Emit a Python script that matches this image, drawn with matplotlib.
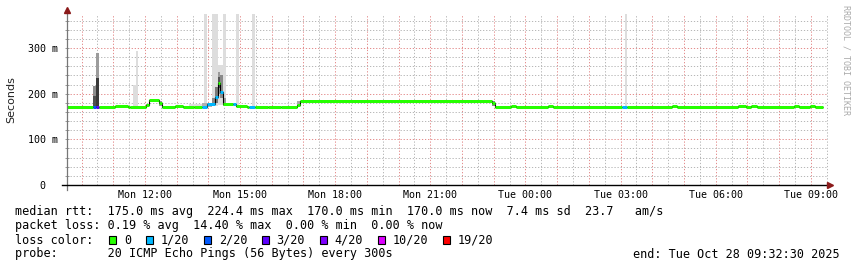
import matplotlib
matplotlib.use("Agg")
import matplotlib.pyplot as plt
from matplotlib.ticker import FixedLocator, FuncFormatter, MultipleLocator
from matplotlib.patches import Rectangle
import numpy as np

plt.rcParams['font.family'] = ['DejaVu Sans Mono']
plt.rcParams['lines.scale_dashes'] = False

# ---------------- data ----------------
START_H = 9 + 32.5 / 60          # Mon 09:32:30 (hours since Mon 00:00)
STEP_H = 5 / 60                  # 300 s step
N_SLOTS = 288

# median rtt (ms) as run-length: number of 5-min steps, value
median_run_len = [10, 8, 5, 1, 6, 1, 4, 1, 5, 3, 4, 5, 3, 1, 1, 1, 5, 4, 3, 5,
                  5, 6, 1, 73, 1, 6, 2, 12, 2, 45, 2, 23, 3, 2, 2, 14, 2, 4, 2, 3]
median_run_ms = [171, 170, 172, 170, 171, 176, 186, 179, 170, 172, 170, 171, 177, 193, 224.4, 204, 177, 174, 170, 171,
                 170, 171, 176, 185, 179, 170, 172, 170, 172, 170, 172, 170, 172, 170, 172, 170, 172, 170, 172, 170]

# packet loss (pings lost out of 20) at given steps, 0 elsewhere
loss_steps = [10, 11, 51, 52, 53, 54, 55, 56, 58, 63, 69, 70, 210, 211]
loss_count = [2, 3, 1, 1, 1, 1, 1, 1, 1, 1, 1, 1, 1, 1]

# smoke (ping spread) bands: first step, last step, low ms, high ms, shade
smoke_first = [25, 26, 46, 52, 55, 57, 59, 64, 70, 211,
               10, 11, 30, 35, 51, 55, 56, 57, 58, 59, 60, 64, 87, 161,
               10, 11, 57]
smoke_last = [25, 26, 50, 52, 56, 58, 59, 64, 70, 211,
              10, 11, 30, 35, 54, 55, 56, 57, 58, 59, 63, 67, 87, 161,
              10, 11, 57]
smoke_lo = [170, 170, 170, 170, 172, 175, 172, 170, 170, 170,
            170, 170, 171, 172, 170, 174, 180, 200, 190, 174, 172, 170, 172, 172,
            170, 170, 213]
smoke_hi = [219, 293, 177, 400, 400, 263, 400, 400, 400, 400,
            217, 290, 178, 184, 180, 190, 215, 248, 240, 190, 177, 175, 184, 184,
            195, 235, 236]
smoke_shade = ['#dddddd'] * 10 + \
              ['#8e8e8e', '#9c9c9c', '#999999', '#999999', '#b0b0b0', '#8a8a8a', '#7a7a7a',
               '#9a9a9a', '#8a8a8a', '#999999', '#c8c8c8', '#8a8a8a', '#aaaaaa', '#888888'] + \
              ['#505050', '#3a3a3a', '#555555']

loss_labels = ['0', '1/20', '2/20', '3/20', '4/20', '10/20', '19/20']
loss_colors = ['#26ff00', '#00b8ff', '#0059ff', '#5e00ff', '#7e00ff', '#dd00ff', '#ff0000']

y_ticks = [0.0, 0.1, 0.2, 0.3]
y_tick_labels = ['0  ', '100 m', '200 m', '300 m']

stats_lines = [
    "median rtt:  175.0 ms avg  224.4 ms max  170.0 ms min  170.0 ms now  7.4 ms sd  23.7   am/s",
    "packet loss: 0.19 % avg  14.40 % max  0.00 % min  0.00 % now",
]
probe_text = "probe:       20 ICMP Echo Pings (56 Bytes) every 300s"
end_text = "end: Tue Oct 28 09:32:30 2025"

# ---------------- build series ----------------
median_ms = np.repeat(median_run_ms, median_run_len)
n = len(median_ms)
edges = START_H + STEP_H * np.arange(n + 1)
median_s = median_ms / 1000.0
loss = np.zeros(n, dtype=int)
loss[loss_steps] = loss_count


def loss_color(c):
    if c == 0:
        return loss_colors[0]
    if c <= 4:
        return loss_colors[c]
    if c <= 10:
        return loss_colors[5]
    return loss_colors[6]


W, H = 857, 267
fig = plt.figure(figsize=(W / 100, H / 100), dpi=100)
fig.patch.set_facecolor('white')
ax_left, ax_right, ax_top, ax_bot = 67, 828, 14, 185
ax = fig.add_axes([ax_left / W, 1 - ax_bot / H, (ax_right - ax_left) / W, (ax_bot - ax_top) / H])
ax.set_xlim(START_H, START_H + N_SLOTS * STEP_H)
ax.set_ylim(0, (ax_bot - ax_top) / 456.7)

# grid
ax.set_axisbelow(True)
ax.yaxis.set_major_locator(FixedLocator(y_ticks))
ax.yaxis.set_minor_locator(MultipleLocator(0.02))
ax.yaxis.set_major_formatter(FuncFormatter(
    lambda v, p: y_tick_labels[y_ticks.index(round(v, 2))] if round(v, 2) in y_ticks else ''))
hours = list(range(10, 34))
ax.xaxis.set_major_locator(FixedLocator(hours))
ax.xaxis.set_minor_locator(FixedLocator([h + 0.5 for h in range(9, 34)]))


def xfmt(v, p):
    h = int(round(v))
    if h % 3:
        return ''
    day = 'Mon' if h < 24 else 'Tue'
    return f"{day} {h % 24:02d}:00"


ax.xaxis.set_major_formatter(FuncFormatter(xfmt))
ax.grid(which='minor', color='#b8b8b8', linestyle=(0, (0.9, 1.3)), linewidth=0.72)
ax.grid(which='major', color='#e48e8e', linestyle=(0, (0.9, 1.3)), linewidth=0.72)

for s in ax.spines.values():
    s.set_visible(False)
ax.tick_params(axis='y', which='both', direction='inout', length=3, width=0.7, color='#999999',
               labelsize=7.2, pad=5)
ax.tick_params(axis='x', which='both', length=0, labelsize=7.2, pad=3.5)

# smoke
for f, l, lo, hi, sh in zip(smoke_first, smoke_last, smoke_lo, smoke_hi, smoke_shade):
    ax.bar(edges[f], (hi - lo) / 1000.0, bottom=lo / 1000.0, width=edges[l + 1] - edges[f],
           align='edge', color=sh, linewidth=0, zorder=2)

# median black step line
ax.stairs(median_s, edges, baseline=None, color='black', linewidth=0.8, zorder=3)

# loss coloured median segments, merged into runs of equal value and colour
cols = [loss_color(c) for c in loss]
seg_y, seg_x0, seg_x1, seg_c = [], [], [], []
i = 0
while i < n:
    j = i
    while j + 1 < n and median_s[j + 1] == median_s[i] and cols[j + 1] == cols[i]:
        j += 1
    seg_y.append(median_s[i]); seg_x0.append(edges[i]); seg_x1.append(edges[j + 1]); seg_c.append(cols[i])
    i = j + 1
ax.hlines(seg_y, seg_x0, seg_x1, colors=seg_c, linewidth=2.16, zorder=4)

# axes lines and arrows
ax.plot([0, 0], [-0.03, 1.02], transform=ax.transAxes, color='#777777', lw=0.9, clip_on=False, zorder=5)
ax.plot([-0.007, 1.0], [0, 0], transform=ax.transAxes, color='black', lw=1.0, clip_on=False, zorder=5)
ax.plot([0], [1.025], transform=ax.transAxes, marker='^', ms=4, color='#8b1a1a', clip_on=False, zorder=6)
ax.plot([1.003], [0], transform=ax.transAxes, marker='>', ms=4, color='#8b1a1a', clip_on=False, zorder=6)

fig.text(11 / W, 1 - 100 / H, 'Seconds', rotation=90, ha='center', va='center',
         fontsize=8, family='DejaVu Sans', color='#222222')
fig.text(846 / W, 1 - 5 / H, 'RRDTOOL / TOBI OETIKER', rotation=270, ha='center', va='top',
         fontsize=6, color='#aaaaaa')

# legend area
fs = 8.5
cw = 0.602 * fs * 100 / 72
x0 = 15.3
ys = [211, 226, 240, 254]
for t, y in zip(stats_lines, ys[:2]):
    fig.text(x0 / W, 1 - y / H, t, ha='left', va='center', fontsize=fs)
fig.text(x0 / W, 1 - ys[2] / H, 'loss color:', ha='left', va='center', fontsize=fs)
xb = x0 + 13 * cw + 1.5
for lab, col in zip(loss_labels, loss_colors):
    fig.patches.append(Rectangle((xb / W, 1 - (ys[2] + 4) / H), 7 / W, 8 / H, transform=fig.transFigure,
                                 facecolor=col, edgecolor='black', linewidth=0.8))
    fig.text((xb + 15) / W, 1 - ys[2] / H, lab, ha='left', va='center', fontsize=fs)
    xb += 15 + len(lab) * cw + 14.5
fig.text(x0 / W, 1 - ys[3] / H, probe_text, ha='left', va='center', fontsize=fs)
fig.text(840 / W, 1 - ys[3] / H, end_text, ha='right', va='center', fontsize=fs)

fig.savefig('out.png', dpi=100, facecolor='white')
